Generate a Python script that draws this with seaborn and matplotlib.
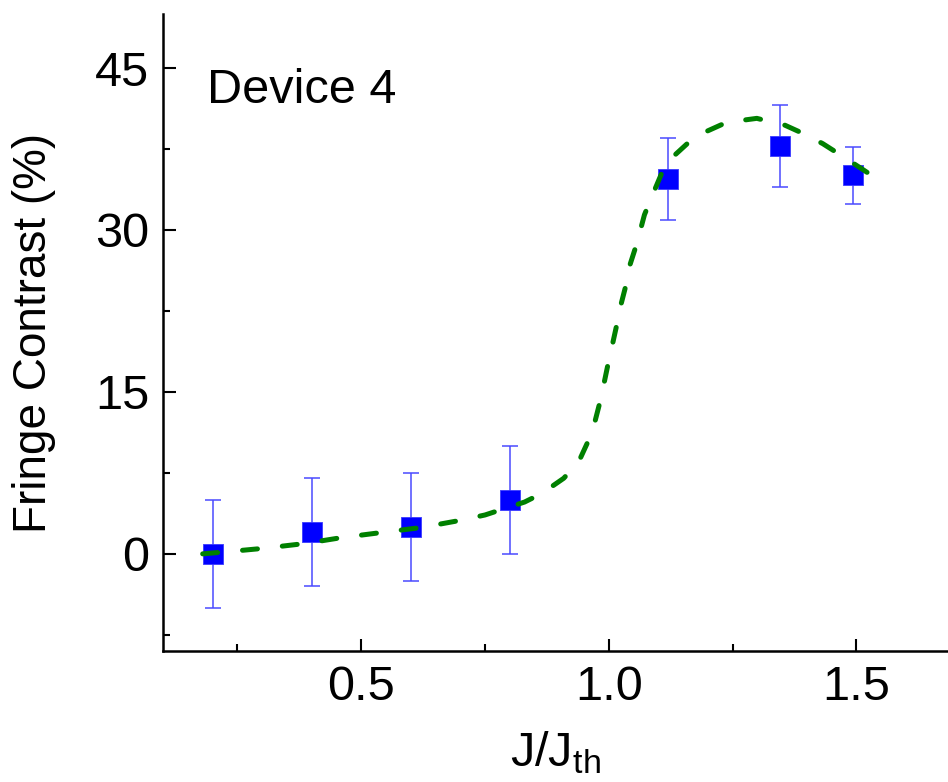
import matplotlib
matplotlib.use("Agg")
import matplotlib.pyplot as plt
import seaborn as sns
import pandas as pd
from matplotlib.ticker import MultipleLocator

# Measured fringe contrast vs normalised drive current
j_ratio = [0.20, 0.40, 0.60, 0.80, 1.12, 1.345, 1.493]
contrast = [0.0, 2.0, 2.5, 5.0, 34.75, 37.8, 35.05]
contrast_err = [5.0, 5.0, 5.0, 5.0, 3.8, 3.8, 2.6]

# Fitted model curve
fit_j = [0.18, 0.23, 0.30, 0.385, 0.46, 0.54, 0.62, 0.70, 0.75, 0.83, 0.865,
         0.909, 0.939, 0.956, 0.969, 0.983, 0.99, 1.0, 1.006, 1.018, 1.023,
         1.037, 1.043, 1.057, 1.072, 1.087, 1.107, 1.13, 1.174, 1.238, 1.299,
         1.356, 1.392, 1.432, 1.473, 1.513, 1.537]
fit_contrast = [0.0, 0.2, 0.5, 0.95, 1.5, 1.97, 2.43, 3.1, 3.6, 4.8, 5.6,
                7.0, 8.5, 10.2, 11.7, 14.2, 15.7, 17.9, 19.1, 21.6, 22.8,
                25.3, 26.8, 28.8, 31.4, 33.1, 35.27, 36.8, 38.65, 39.97, 40.34,
                39.7, 38.95, 38.0, 36.8, 35.6, 34.87]

y_ticks = [0, 15, 30, 45]
x_ticks = [0.5, 1.0, 1.5]

sns.set_theme(style="ticks")
plt.rcParams["font.family"] = ["Liberation Sans", "DejaVu Sans"]
plt.rcParams["mathtext.fontset"] = "custom"
plt.rcParams["mathtext.rm"] = "Liberation Sans"
plt.rcParams["mathtext.it"] = "Liberation Sans"
plt.rcParams["text.color"] = "black"
plt.rcParams["axes.labelcolor"] = "black"

data = pd.DataFrame({"j": j_ratio, "c": contrast, "err": contrast_err})
fit = pd.DataFrame({"j": fit_j, "c": fit_contrast})

fig = plt.figure(figsize=(9.48, 7.82), dpi=100)
ax = fig.add_axes([0.172, 0.1675, 0.828, 0.8145])

ax.errorbar(data["j"], data["c"], yerr=data["err"], fmt="none",
            ecolor="#4a4aff", elinewidth=1.1, capsize=6, capthick=1.1, zorder=2)
sns.scatterplot(data=data, x="j", y="c", marker="s", s=190, color="#0000ff",
                edgecolor="#3a3aff", linewidth=0.6, ax=ax, zorder=3, legend=False)
sns.lineplot(data=fit, x="j", y="c", ax=ax, color="#008000", linewidth=3.6,
             zorder=4, sort=False, estimator=None)
ln = ax.lines[-1]
ln.set_dashes((3, 5))
ln.set_dash_capstyle("round")

ax.set_xlim(0.1, 1.685)
ax.set_ylim(-9, 50)
ax.set_xticks(x_ticks)
ax.set_xticklabels([f"{v:.1f}" for v in x_ticks])
ax.set_yticks(y_ticks)
ax.xaxis.set_minor_locator(MultipleLocator(0.25))
ax.yaxis.set_minor_locator(MultipleLocator(7.5))

for side in ["top", "right"]:
    ax.spines[side].set_visible(False)
for side in ["left", "bottom"]:
    ax.spines[side].set_linewidth(1.8)
    ax.spines[side].set_color("black")

ax.tick_params(which="major", direction="in", length=9, width=1.5,
               labelsize=35, pad=10, colors="black")
ax.tick_params(which="minor", direction="in", length=5, width=1.5, colors="black")

ax.set_xlabel(r"J/J$_{\mathrm{th}}$", fontsize=35, labelpad=14, color="black")
ax.set_ylabel("Fringe Contrast (%)", fontsize=33, labelpad=28, color="black")

ax.text(0.056, 0.86, "Device 4", transform=ax.transAxes, fontsize=35,
        ha="left", va="baseline", color="black")

fig.savefig("out.png", dpi=100, facecolor="white")
